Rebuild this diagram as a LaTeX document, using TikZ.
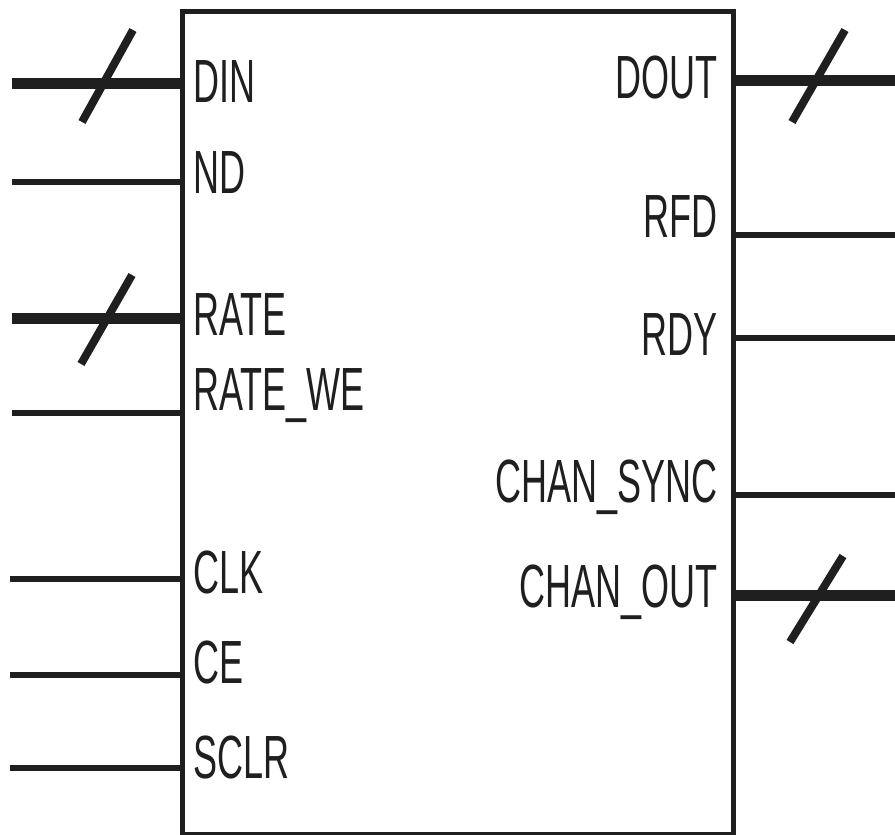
\documentclass[tikz,border=0pt]{standalone}
\usepackage{fontspec}
\newfontfamily\lbl[FakeStretch=0.59]{Liberation Sans}
\begin{document}
\begin{tikzpicture}[x=1pt,y=-1pt,
  bus/.style={line width=11pt,color=black!88},
  sig/.style={line width=6pt,color=black!88},
  slash/.style={line width=8pt,color=black!88},
  lab/.style={inner sep=0pt,font=\lbl\fontsize{61}{70}\selectfont,text=black!88},
  blkbox/.style={draw=black!88,line width=5pt,fill=white,inner sep=0pt}]
\useasboundingbox (0,0) rectangle (895,835);
% wires (drawn first so the box edge covers their ends)
\coordinate (dinL) at (12,83);   \coordinate (dinR) at (180,83);
\coordinate (ndL) at (12,182);   \coordinate (ndR) at (180,182);
\coordinate (rateL) at (12,318); \coordinate (rateR) at (180,318);
\coordinate (rweL) at (12,413);  \coordinate (rweR) at (180,413);
\coordinate (clkL) at (10,579);  \coordinate (clkR) at (180,579);
\coordinate (ceL) at (10,675);   \coordinate (ceR) at (180,675);
\coordinate (sclrL) at (10,768); \coordinate (sclrR) at (180,768);
\coordinate (doutL) at (731,80);  \coordinate (doutR) at (895,80);
\coordinate (rfdL) at (731,235);  \coordinate (rfdR) at (895,235);
\coordinate (rdyL) at (731,338);  \coordinate (rdyR) at (895,338);
\coordinate (csL) at (731,495);   \coordinate (csR) at (895,495);
\coordinate (coL) at (731,595);   \coordinate (coR) at (895,595);
\draw[bus] (dinL) -- (dinR);
\draw[sig] (ndL) -- (ndR);
\draw[bus] (rateL) -- (rateR);
\draw[sig] (rweL) -- (rweR);
\draw[sig] (clkL) -- (clkR);
\draw[sig] (ceL) -- (ceR);
\draw[sig] (sclrL) -- (sclrR);
\draw[bus] (doutL) -- (doutR);
\draw[sig] (rfdL) -- (rfdR);
\draw[sig] (rdyL) -- (rdyR);
\draw[sig] (csL) -- (csR);
\draw[bus] (coL) -- (coR);
% bus slashes
\coordinate (s1a) at (82,122);  \coordinate (s1b) at (133,30);
\coordinate (s2a) at (81,364);  \coordinate (s2b) at (132,275);
\coordinate (s3a) at (792,122); \coordinate (s3b) at (845,30);
\coordinate (s4a) at (790,642); \coordinate (s4b) at (843,556);
\draw[slash] (s1a) -- (s1b);
\draw[slash] (s2a) -- (s2b);
\draw[slash] (s3a) -- (s3b);
\draw[slash] (s4a) -- (s4b);
% block
\node[blkbox,minimum width=551pt,minimum height=823pt,anchor=north west] (blk) at (180,9) {};
% labels
\node[lab,anchor=base west] (tDIN) at (193,102) {DIN};
\node[lab,anchor=base west] (tND) at (193,193) {ND};
\node[lab,anchor=base west] (tRATE) at (193,335) {RATE};
\node[lab,anchor=base west] (tRWE) at (193,410) {RATE\_WE};
\node[lab,anchor=base west] (tCLK) at (193,593) {CLK};
\node[lab,anchor=base west] (tCE) at (193,683) {CE};
\node[lab,anchor=base west] (tSCLR) at (193,778) {SCLR};
\node[lab,anchor=base east] (tDOUT) at (718,98) {DOUT};
\node[lab,anchor=base east] (tRFD) at (718,237) {RFD};
\node[lab,anchor=base east] (tRDY) at (718,355) {RDY};
\node[lab,anchor=base east] (tCS) at (718,502) {CHAN\_SYNC};
\node[lab,anchor=base east] (tCO) at (718,607) {CHAN\_OUT};
\end{tikzpicture}
\end{document}
